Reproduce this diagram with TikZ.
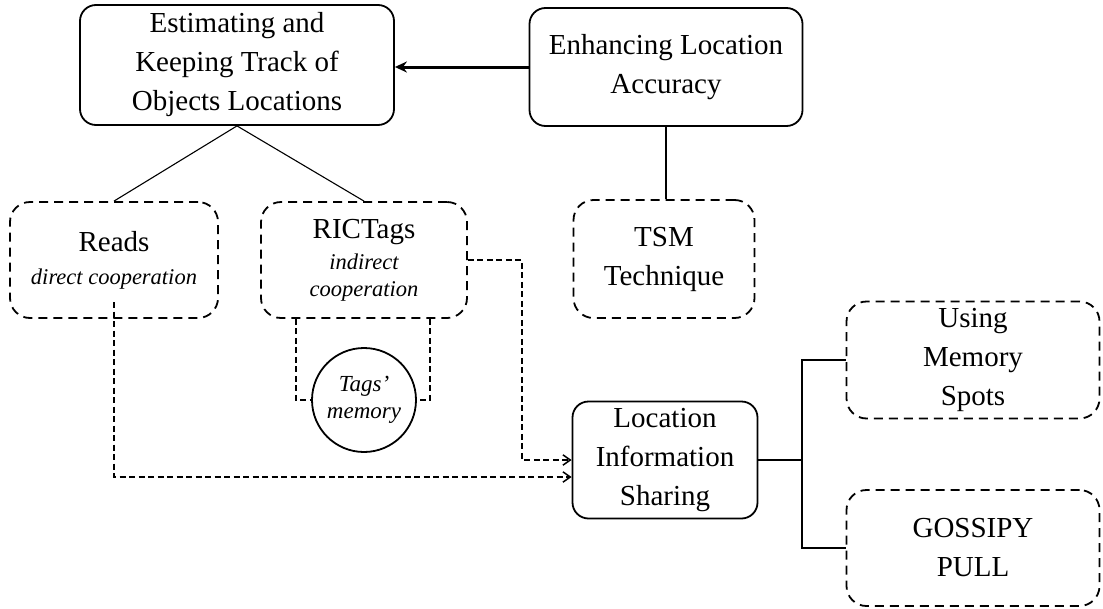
\documentclass[tikz,border=0pt]{standalone}
\usepackage{fontspec}
\setmainfont{Liberation Serif}
\usetikzlibrary{arrows.meta}
\newcommand{\itx}{\fontsize{22.5}{25}\selectfont\itshape}
\tikzset{
  solidbox/.style={draw, line width=1.8pt, rounded corners=16pt, align=center, inner sep=0pt, font=\fontsize{29}{39}\selectfont},
  dashbox/.style={draw, line width=1.8pt, dash pattern=on 9pt off 6pt, rounded corners=20pt, align=center, inner sep=0pt, font=\fontsize{29}{39}\selectfont},
  conn/.style={line width=1.1pt},
  dconn/.style={line width=1.5pt, dash pattern=on 6pt off 3.5pt},
  darrow/.style={dconn, -{Straight Barb[angle=70:9pt, line width=1.5pt]}},
  thickarrow/.style={line width=3pt, -{Stealth[length=12pt, width=11pt]}}
}
\begin{document}
\begin{tikzpicture}[x=1pt,y=-1pt]
\useasboundingbox (0,0) rectangle (1103,608);
% main nodes
\node[solidbox, minimum width=314pt, minimum height=120pt] (A) at (237,65) {Estimating and\\Keeping Track of\\Objects Locations};
\node[solidbox, minimum width=273pt, minimum height=118pt] (B) at (666,67) {Enhancing Location\\Accuracy};
\node[dashbox, minimum width=208pt, minimum height=116pt] (reads) at (114,260) {Reads\\[-6pt]\itx direct cooperation};
\node[dashbox, minimum width=206pt, minimum height=116pt] (ric) at (364,260) {RICTags\\[-8pt]\itx indirect\\[-12pt]\itx cooperation};
\node[dashbox, minimum width=181pt, minimum height=118pt] (tsm) at (664,259) {TSM\\Technique};
\node[draw, circle, line width=1.8pt, minimum size=104pt, inner sep=0pt, align=center, font=\fontsize{23}{27}\selectfont\itshape] (mem) at (364,400) {Tags'\\memory};
\node[solidbox, minimum width=185pt, minimum height=117pt] (lis) at (665,460) {Location\\Information\\Sharing};
\node[dashbox, minimum width=253pt, minimum height=117pt] (using) at (973,360) {Using\\Memory\\Spots};
\node[dashbox, minimum width=253pt, minimum height=116pt] (gos) at (973,548) {GOSSIPY\\PULL};
% connectors
\draw[thickarrow] (B.west) -- (A.east |- B.west);
\draw[conn] (A.south) -- (reads.north);
\draw[conn] (A.south) -- (ric.north);
\draw[conn] (B.south) -- (B.south |- tsm.north);
\draw[dconn] ([xshift=-68pt]ric.south) |- (mem.west);
\draw[dconn] ([xshift=66pt]ric.south) |- (mem.east);
\coordinate (rstart) at (114,302);
\draw[darrow] (rstart) |- ([yshift=-17pt]lis.west);
\coordinate (rbend) at (522,260);
\draw[darrow] (ric.east) -- (rbend) |- (lis.west);
\coordinate (jn) at (802,460);
\draw[conn] (lis.east) -- (jn);
\draw[conn] (using.west) -| (jn) |- (gos.west);
\end{tikzpicture}
\end{document}
